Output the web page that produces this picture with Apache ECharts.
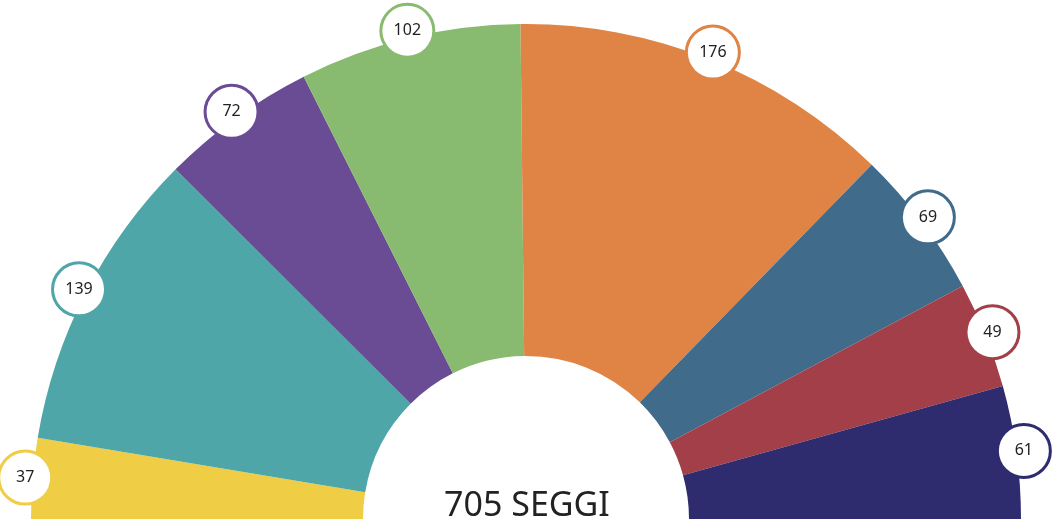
<!DOCTYPE html>
<html>
<head>
<meta charset="utf-8">
<script src="https://cdn.jsdelivr.net/npm/echarts@6/dist/echarts.min.js"></script>
<style>
  html, body { margin: 0; padding: 0; background: #fff; }
  #main { width: 1056px; height: 524px; }
</style>
</head>
<body>
<div id="main"></div>
<script>
const groups = ['Gruppo 1', 'Gruppo 2', 'Gruppo 3', 'Gruppo 4', 'Gruppo 5', 'Gruppo 6', 'Gruppo 7', 'Gruppo 8'];
const seats = [37, 139, 72, 102, 176, 69, 49, 61];
const colors = ['#EFCE45', '#4FA6A9', '#6A4C94', '#88BA6F', '#DF8445', '#416B8B', '#A33F48', '#2E2C6F'];
const totalLabel = '705 SEGGI';

const chart = echarts.init(document.getElementById('main'), null, { renderer: 'canvas' });

const slices = groups.map(function (g, i) {
  return { name: g, value: seats[i], itemStyle: { color: colors[i] } };
});

// thin invisible ring on the outer edge, only used to carry the round badges
const badges = groups.map(function (g, i) {
  return {
    name: g,
    value: seats[i],
    itemStyle: { color: 'rgba(0,0,0,0)' },
    label: { borderColor: colors[i] }
  };
});

const option = {
  animation: false,
  backgroundColor: '#fff',
  series: [
    {
      type: 'pie',
      center: [526, 519],
      radius: [163, 495],
      startAngle: 180,
      endAngle: 0,
      clockwise: true,
      silent: true,
      label: { show: false },
      labelLine: { show: false },
      itemStyle: { borderWidth: 0 },
      data: slices
    },
    {
      type: 'pie',
      center: [526, 519],
      radius: [497, 502],
      startAngle: 180,
      endAngle: 0,
      clockwise: true,
      silent: true,
      z: 5,
      labelLine: { show: false },
      label: {
        show: true,
        position: 'inside',
        formatter: '{c}',
        color: '#222',
        fontFamily: 'Noto Sans',
        fontSize: 16,
        backgroundColor: '#fff',
        borderWidth: 3,
        borderRadius: 27,
        width: 50,
        height: 50,
        lineHeight: 50,
        align: 'center',
        verticalAlign: 'middle'
      },
      data: badges
    }
  ],
  graphic: [
    {
      type: 'text',
      x: 527,
      y: 523,
      z: 10,
      style: {
        text: totalLabel,
        fill: '#222',
        font: '34px "Noto Sans"',
        textAlign: 'center',
        textVerticalAlign: 'bottom'
      }
    }
  ]
};

chart.setOption(option);
</script>
</body>
</html>
